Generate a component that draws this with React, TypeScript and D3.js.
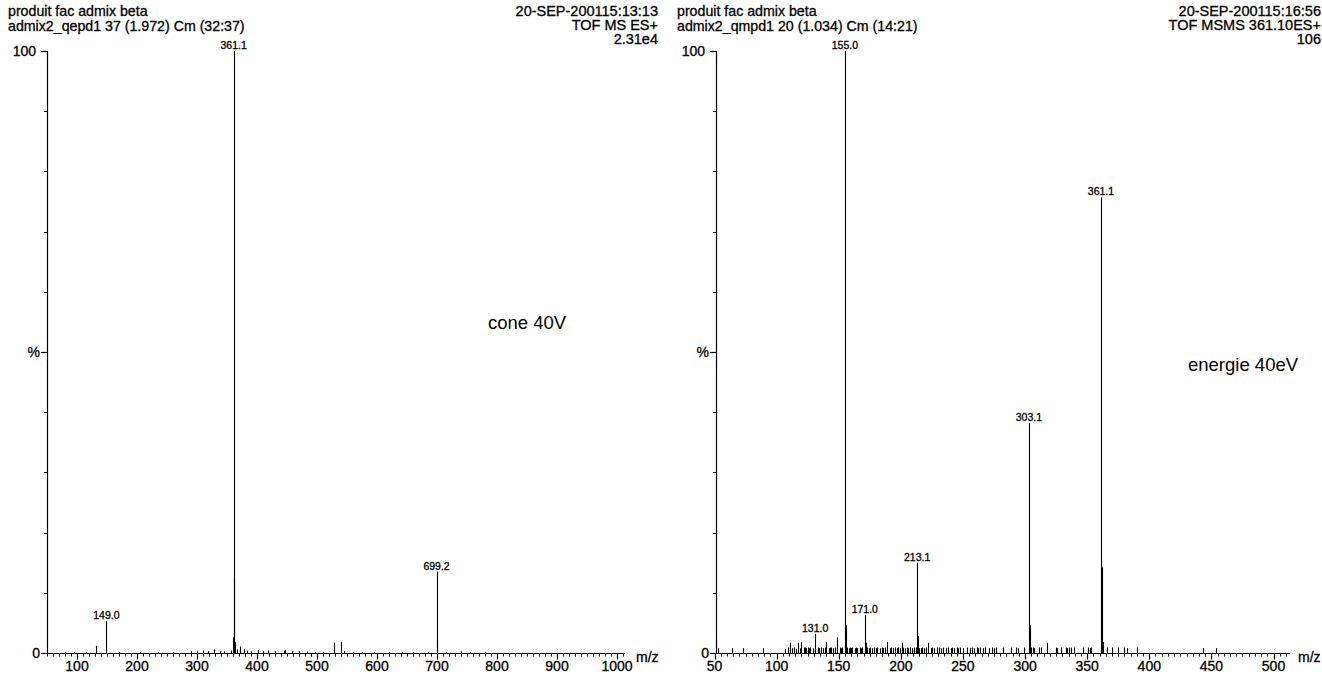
import React from "react";
import * as d3 from "d3";

// ---- data: left spectrum (TOF MS ES+, cone 40V) ----
const leftMz = [80, 95, 115, 131, 149.0, 170, 205, 235, 260, 290, 300, 310, 318, 328, 338, 345, 356, 360.1, 361.1, 362.1, 363.1, 366, 371, 378, 384, 390, 402, 410, 418, 430, 445, 446.5, 459, 470, 483, 497, 510, 528, 540, 545, 560, 575, 595, 620, 642, 660, 685, 699.2, 700.2, 715, 740, 755, 780];
const leftPct = [0.2, 0.15, 0.2, 1.2, 5.3, 0.15, 0.2, 0.15, 0.2, 0.3, 0.3, 0.4, 0.3, 0.6, 0.3, 0.3, 0.4, 2.6, 100, 12.5, 1.8, 0.6, 1.1, 0.6, 0.4, 0.3, 0.5, 0.3, 0.4, 0.3, 0.4, 0.5, 0.3, 0.3, 0.25, 0.2, 0.2, 1.7, 1.8, 0.3, 0.2, 0.15, 0.2, 0.15, 0.2, 0.15, 0.2, 13.5, 2.2, 0.2, 0.3, 0.15, 0.1];
const leftLabels = ["149.0", "361.1", "699.2"];

// ---- data: right spectrum (TOF MSMS 361.10ES+, energie 40eV) ----
const rightMz = [53, 64, 73, 89, 107, 109, 111, 112, 114, 116, 117, 119, 120, 122, 123, 124, 125, 126, 127, 129, 131.0, 133, 134, 136, 137, 139, 140, 142, 143, 144, 145, 147, 149, 151, 152, 153, 155.0, 156, 157, 158, 159, 160, 161, 163, 164, 165, 167, 168, 169, 171.0, 172, 173, 174, 175, 177, 178, 180, 181, 183, 185, 186, 187, 189, 191, 192, 194, 195, 197, 198, 199, 201, 202, 203, 205, 206, 207, 209, 211, 212, 213.1, 214, 215, 216, 217, 219, 220, 222, 224, 225, 227, 229, 231, 232, 234, 236, 238, 240, 241, 243, 245, 246, 248, 250, 253, 256, 257, 259, 261, 262, 264, 266, 268, 271, 273, 275, 277, 282, 289, 293, 294, 299, 303.1, 304, 305, 306, 307, 311, 313, 318, 325, 326, 329, 333, 334, 335, 337, 339, 347, 351, 352, 353, 361.1, 362, 363, 366, 370, 375, 380, 382, 390, 443, 454];
const rightPct = [0.8, 0.8, 0.8, 0.8, 0.7, 0.9, 1.7, 0.8, 0.9, 0.7, 1.7, 0.8, 1.8, 0.9, 0.9, 0.8, 0.9, 0.8, 0.9, 0.8, 3.2, 0.9, 0.8, 0.9, 0.8, 0.9, 1.8, 0.8, 0.9, 0.9, 0.8, 0.9, 2.6, 0.9, 0.8, 0.9, 100, 4.6, 0.9, 0.8, 0.9, 0.8, 0.9, 0.8, 0.9, 0.8, 0.9, 0.8, 0.9, 6.3, 1.7, 0.9, 0.8, 0.9, 0.8, 0.9, 0.8, 0.9, 0.8, 0.9, 0.8, 0.9, 1.8, 0.8, 0.9, 0.8, 0.9, 0.8, 0.9, 0.8, 1.7, 0.9, 0.8, 0.9, 0.8, 0.9, 0.8, 0.9, 0.9, 15.0, 2.8, 0.8, 0.8, 0.9, 0.8, 0.9, 1.7, 0.8, 0.9, 0.8, 0.9, 0.9, 0.8, 0.9, 0.8, 0.9, 0.8, 0.9, 0.8, 0.9, 0.8, 0.9, 0.8, 0.9, 0.8, 0.9, 0.8, 0.9, 0.8, 0.9, 0.8, 0.9, 0.8, 0.9, 0.8, 0.9, 0.9, 0.9, 0.9, 0.8, 0.9, 38.2, 4.6, 0.9, 0.9, 0.8, 0.9, 0.9, 1.7, 0.9, 0.8, 0.9, 0.9, 0.8, 0.9, 0.9, 0.9, 0.9, 0.9, 0.8, 0.9, 75.7, 14.2, 1.8, 0.9, 0.9, 0.9, 0.9, 0.8, 0.9, 0.8, 0.8];
const rightLabels = ["131.0", "155.0", "171.0", "213.1", "303.1", "361.1"];

const leftHeader = ["produit fac admix beta", "admix2_qepd1 37 (1.972) Cm (32:37)"];
const leftInfo = ["20-SEP-200115:13:13", "TOF MS ES+", "2.31e4"];
const rightHeader = ["produit fac admix beta", "admix2_qmpd1 20 (1.034) Cm (14:21)"];
const rightInfo = ["20-SEP-200115:16:56", "TOF MSMS 361.10ES+", "106"];

const FONT = "'Liberation Sans', Arial, sans-serif";
const W = 1322;
const H = 674;

type PanelProps = {
  mz: number[];
  pct: number[];
  labels: string[];
  header: string[];
  info: string[];
  note: string;
  domain: [number, number];
  range: [number, number];
  axisX: number;
  axisEnd: number;
  unitX: number;
  majorStep: number;
  minorStep: number;
  infoX: number;
  noteX: number;
  noteY: number;
};

const y = d3.scaleLinear().domain([0, 100]).range([653, 51]);

function Panel(p: PanelProps) {
  const x = d3.scaleLinear().domain(p.domain).range(p.range);
  const x0 = p.axisX;
  const lastVal = x.invert(p.axisEnd);
  const majors = d3.range(Math.ceil(p.domain[0] / p.majorStep) * p.majorStep, lastVal + 0.01, p.majorStep);
  const minors = d3.range(Math.ceil(p.domain[0] / p.minorStep) * p.minorStep, lastVal + 0.01, p.minorStep);
  const yMinor = d3.range(10, 100, 10);
  const px = (v: number) => Math.round(x(v)) + 0.5;
  const base = Math.round(y(0)) + 0.5;
  const hx = x0 - 39;
  const ink = { stroke: "#000", strokeWidth: 0.3 };

  return (
    <g>
      {/* header */}
      {p.header.map((t, i) => (
        <text key={"h" + i} x={hx} y={16 + i * 15} fontSize={14.2} {...ink}>{t}</text>
      ))}
      {p.info.map((t, i) => (
        <text key={"i" + i} x={p.infoX} y={16 + i * 14} fontSize={14.5} textAnchor="end" {...ink}>{t}</text>
      ))}

      {/* peaks */}
      {p.mz.map((m, i) => (
        <line key={"p" + i} x1={px(m)} x2={px(m)} y1={base} y2={y(p.pct[i])} stroke="#000" strokeWidth={1.1} />
      ))}
      {p.labels.map((l) => {
        const i = p.mz.findIndex((m) => m.toFixed(1) === l);
        return (
          <text key={"l" + l} x={x(p.mz[i])} y={y(p.pct[i]) - 2} fontSize={10.5} textAnchor="middle" {...ink}>{l}</text>
        );
      })}

      {/* y axis */}
      <line x1={x0 + 0.5} x2={x0 + 0.5} y1={y(100)} y2={base} stroke="#000" strokeWidth={1.2} />
      {[0, 50, 100].map((v) => (
        <line key={"ym" + v} x1={x0 - 6} x2={x0} y1={Math.round(y(v)) + 0.5} y2={Math.round(y(v)) + 0.5} stroke="#000" strokeWidth={1.2} />
      ))}
      {yMinor.filter((v) => v !== 50).map((v) => (
        <line key={"yn" + v} x1={x0 - 3} x2={x0} y1={Math.round(y(v)) + 0.5} y2={Math.round(y(v)) + 0.5} stroke="#000" />
      ))}
      <text x={x0 - 11} y={y(100) + 5} fontSize={14} textAnchor="end" {...ink}>100</text>
      <text x={x0 - 7} y={y(50) + 5} fontSize={14} textAnchor="end" {...ink}>%</text>
      <text x={x0 - 7} y={y(0) + 5} fontSize={14} textAnchor="end" {...ink}>0</text>

      {/* x axis */}
      <line x1={x0} x2={p.axisEnd} y1={base} y2={base} stroke="#000" strokeWidth={1.2} />
      {minors.map((v) => (
        <line key={"xn" + v} x1={px(v)} x2={px(v)} y1={base} y2={base + 3} stroke="#000" />
      ))}
      {majors.map((v) => (
        <g key={"xm" + v}>
          <line x1={px(v)} x2={px(v)} y1={base} y2={base + 6} stroke="#000" strokeWidth={1.2} />
          <text x={x(v)} y={671} fontSize={14} textAnchor="middle" {...ink}>{v}</text>
        </g>
      ))}
      <text x={p.unitX} y={662} fontSize={14} {...ink}>m/z</text>

      <text x={p.noteX} y={p.noteY} fontSize={18.5}>{p.note}</text>
    </g>
  );
}

export default function App() {
  return (
    <div style={{ position: "fixed", left: 0, top: 0, width: W, height: H, background: "#fff" }}>
      <svg width={W} height={H} style={{ display: "block", fontFamily: FONT }} fill="#000">
        <rect width={W} height={H} fill="#fff" />
        <Panel
          mz={leftMz}
          pct={leftPct}
          labels={leftLabels}
          header={leftHeader}
          info={leftInfo}
          note="cone 40V"
          domain={[50, 1000]}
          range={[47, 617]}
          axisX={47}
          axisEnd={625}
          unitX={636}
          majorStep={100}
          minorStep={10}
          infoX={658}
          noteX={488}
          noteY={329}
        />
        <Panel
          mz={rightMz}
          pct={rightPct}
          labels={rightLabels}
          header={rightHeader}
          info={rightInfo}
          note="energie 40eV"
          domain={[50, 500]}
          range={[714.5, 1273.5]}
          axisX={716}
          axisEnd={1290}
          unitX={1298}
          majorStep={50}
          minorStep={5}
          infoX={1321}
          noteX={1188}
          noteY={371}
        />
      </svg>
    </div>
  );
}
